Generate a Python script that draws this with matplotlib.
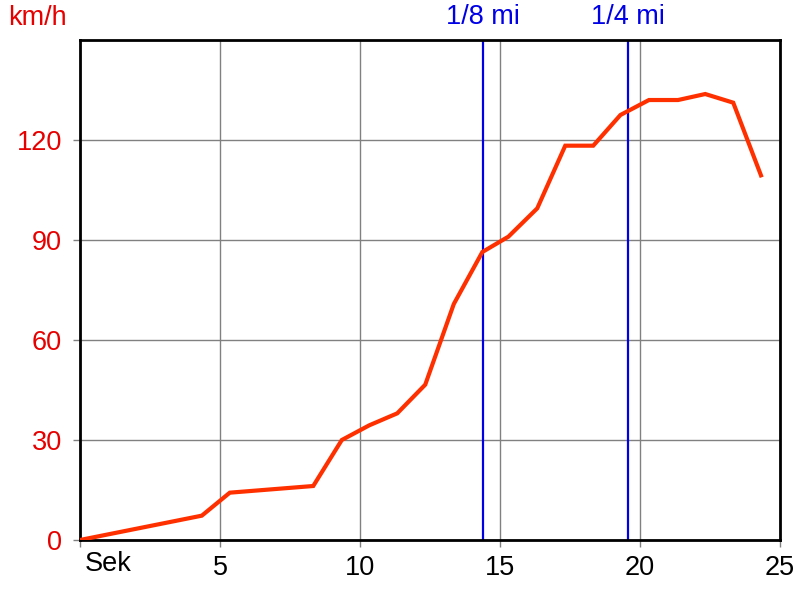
#!/usr/bin/env python3
"""Speed over time run chart with 1/8 and 1/4 mile markers."""
import matplotlib
matplotlib.use("Agg")
import matplotlib.pyplot as plt
from matplotlib.transforms import blended_transform_factory

plt.rcParams["font.family"] = ["Liberation Sans", "DejaVu Sans"]

# time (s) and speed (km/h)
time_s = [0.0, 4.35, 5.35, 8.33, 9.35, 10.33, 11.33, 12.33, 13.35, 14.37,
          15.3, 16.33, 17.33, 18.33, 19.3, 20.32, 21.36, 22.33, 23.33, 24.32]
speed_kmh = [0.0, 7.3, 14.2, 16.2, 30.0, 34.4, 38.0, 46.6, 70.8, 86.4,
             91.0, 99.5, 118.3, 118.3, 127.5, 132.0, 132.0, 133.8, 131.2, 109.4]

marker_times = [14.39, 19.57]
marker_labels = ["1/8 mi", "1/4 mi"]

x_ticks = [0, 5, 10, 15, 20, 25]
y_ticks = [0, 30, 60, 90, 120]

FS = 19.5

fig = plt.figure(figsize=(8, 6), dpi=100)
ax = fig.add_axes([0.1, 0.1, 0.875, 0.8333])

ax.plot(time_s, speed_kmh, color="#ff3000", lw=3, solid_joinstyle="miter", zorder=3)

for t, lab in zip(marker_times, marker_labels):
    ax.axvline(t, color="#0000e6", lw=1.6, zorder=2)
    ax.text(t, 1.02, lab, transform=blended_transform_factory(ax.transData, ax.transAxes),
            ha="center", va="bottom", color="#0000e6", fontsize=FS)

ax.set_xlim(0, 25)
ax.set_ylim(0, 150)
ax.set_xticks(x_ticks)
ax.set_xticklabels([""] + [str(v) for v in x_ticks[1:]])
ax.set_yticks(y_ticks)
ax.grid(True, color="#808080", lw=1)
ax.set_axisbelow(True)
ax.tick_params(axis="x", colors="#808080", labelcolor="black", labelsize=FS,
               length=5, width=1, pad=6)
ax.tick_params(axis="y", colors="#808080", labelcolor="#e60000", labelsize=FS,
               length=5, width=1, pad=8)
for sp in ax.spines.values():
    sp.set_linewidth(2)
    sp.set_color("black")

ax.text(0.007, -0.022, "Sek", transform=ax.transAxes, ha="left", va="top",
        fontsize=FS, color="black")
fig.text(0.01, 0.97, "km/h", ha="left", va="center", fontsize=FS, color="#e60000")

fig.savefig("out.png", dpi=100)
